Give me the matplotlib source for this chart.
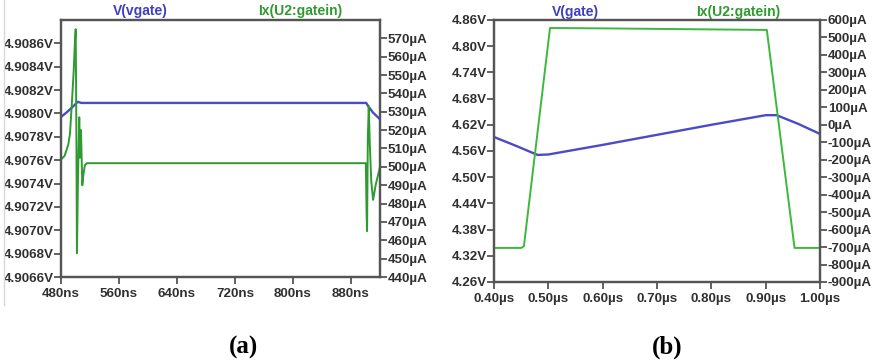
import matplotlib
matplotlib.use("Agg")
import matplotlib.pyplot as plt
from matplotlib.ticker import FuncFormatter
from matplotlib.lines import Line2D

plt.rcParams['font.family'] = ['Liberation Sans', 'DejaVu Sans']

# (a) zoom on the gate node, time in ns
ta_v = [480, 488, 495, 500, 503, 508, 520, 600, 800, 880, 901, 903, 910, 920]
va = [4.90797, 4.90801, 4.90805, 4.90808, 4.90810, 4.90809, 4.90809, 4.90809,
      4.90809, 4.90809, 4.90809, 4.90807, 4.90801, 4.90795]

ta_i = [480, 485, 490, 492.4, 495.2, 497.5, 499, 500.3, 501.2, 502, 503.5, 505.2,
        506.2, 507.6, 509.4, 511, 513, 516, 600, 700, 800, 880, 900.5, 901.5,
        902.2, 903.2, 904.5, 906, 908, 910.5, 914, 920]
ia = [504, 506, 512, 518, 536, 552, 566, 575, 520, 453, 495, 527,
      505, 520, 490, 496, 501, 502, 502, 502, 502, 502, 502, 475,
      465, 515, 533, 512, 492, 482, 490, 500]

# (b) wider window, time in us
tb_v = [0.40, 0.44, 0.48, 0.50, 0.60, 0.70, 0.80, 0.90, 0.92, 0.96, 1.00]
vb = [4.592, 4.572, 4.551, 4.552, 4.574, 4.597, 4.620, 4.642, 4.642, 4.622, 4.599]

tb_i = [0.40, 0.450, 0.455, 0.503, 0.60, 0.70, 0.80, 0.902, 0.953, 1.00]
ib = [-705, -705, -695, 554, 552, 549, 546, 543, -705, -705]

BLUE = '#4b4bc8'
GREEN_A = '#2f9a2f'
GREEN_B = '#3cb83c'
SPINE = '#555555'
TXT = '#303030'

fig = plt.figure(figsize=(8.8, 3.62), dpi=100)


def style(ax):
    for s in ax.spines.values():
        s.set_color(SPINE)
        s.set_linewidth(1.6)
    ax.tick_params(direction='out', length=5, width=1.3, color=SPINE,
                   labelsize=9.6, labelcolor=TXT, pad=0.5)
    ax.tick_params(axis='x', pad=3)
    for lab in ax.get_xticklabels() + ax.get_yticklabels():
        lab.set_fontweight('bold')


# ---- panel (a) ----
ax1 = fig.add_axes([0.0693, 0.2348, 0.3625, 0.71])
ax1.plot(ta_v, va, color=BLUE, lw=1.7)
ax1.set_xlim(480, 920)
ax1.set_ylim(4.9066, 4.9088)
ax1.set_xticks([480, 560, 640, 720, 800, 880])
ax1.set_yticks([4.9066 + 0.0002 * k for k in range(11)])
ax1.xaxis.set_major_formatter(FuncFormatter(lambda v, p: f"{v:.0f}ns"))
ax1.yaxis.set_major_formatter(FuncFormatter(lambda v, p: f"{v:.4f}V"))
ax1r = ax1.twinx()
ax1r.plot(ta_i, ia, color=GREEN_A, lw=1.4)
ax1r.set_ylim(440, 580)
ax1r.set_yticks(list(range(440, 571, 10)))
ax1r.yaxis.set_major_formatter(FuncFormatter(lambda v, p: f"{v:.0f}\u00b5A"))
style(ax1)
style(ax1r)

fig.text(140 / 880, 1 - 11 / 362, 'V(vgate)', color='#3f3fc0', fontsize=10,
         fontweight='bold', ha='center', va='center')
fig.text(300 / 880, 1 - 11 / 362, 'Ix(U2:gatein)', color='#2f9a2f', fontsize=10,
         fontweight='bold', ha='center', va='center')

# ---- panel (b) ----
ax2 = fig.add_axes([0.5614, 0.221, 0.3705, 0.7238])
ax2.plot(tb_v, vb, color=BLUE, lw=1.7)
ax2.set_xlim(0.40, 1.00)
ax2.set_ylim(4.26, 4.86)
ax2.set_xticks([0.40, 0.50, 0.60, 0.70, 0.80, 0.90, 1.00])
ax2.set_yticks([4.26 + 0.06 * k for k in range(11)])
ax2.xaxis.set_major_formatter(FuncFormatter(lambda v, p: f"{v:.2f}\u00b5s"))
ax2.yaxis.set_major_formatter(FuncFormatter(lambda v, p: f"{v:.2f}V"))
ax2r = ax2.twinx()
ax2r.plot(tb_i, ib, color=GREEN_B, lw=1.4)
ax2r.set_ylim(-900, 600)
ax2r.set_yticks(list(range(-900, 601, 100)))
ax2r.yaxis.set_major_formatter(FuncFormatter(lambda v, p: f"{v:.0f}\u00b5A"))
style(ax2)
style(ax2r)

fig.text(575 / 880, 1 - 12 / 362, 'V(gate)', color='#3f3fc0', fontsize=10,
         fontweight='bold', ha='center', va='center')
fig.text(738 / 880, 1 - 12 / 362, 'Ix(U2:gatein)', color='#2f9a2f', fontsize=10,
         fontweight='bold', ha='center', va='center')

# panel captions
fig.text(243 / 880, 1 - 347 / 362, '(a)', family='Liberation Serif', fontsize=18,
         fontweight='bold', ha='center', va='center')
fig.text(667 / 880, 1 - 347 / 362, '(b)', family='Liberation Serif', fontsize=18,
         fontweight='bold', ha='center', va='center')

# thin frame edge on the left of the first screenshot
fig.add_artist(Line2D([4 / 880, 4 / 880], [1 - 305 / 362, 1.0], color='#d8d8d8',
                      lw=1.0, transform=fig.transFigure))

fig.savefig('out.png', dpi=100)
